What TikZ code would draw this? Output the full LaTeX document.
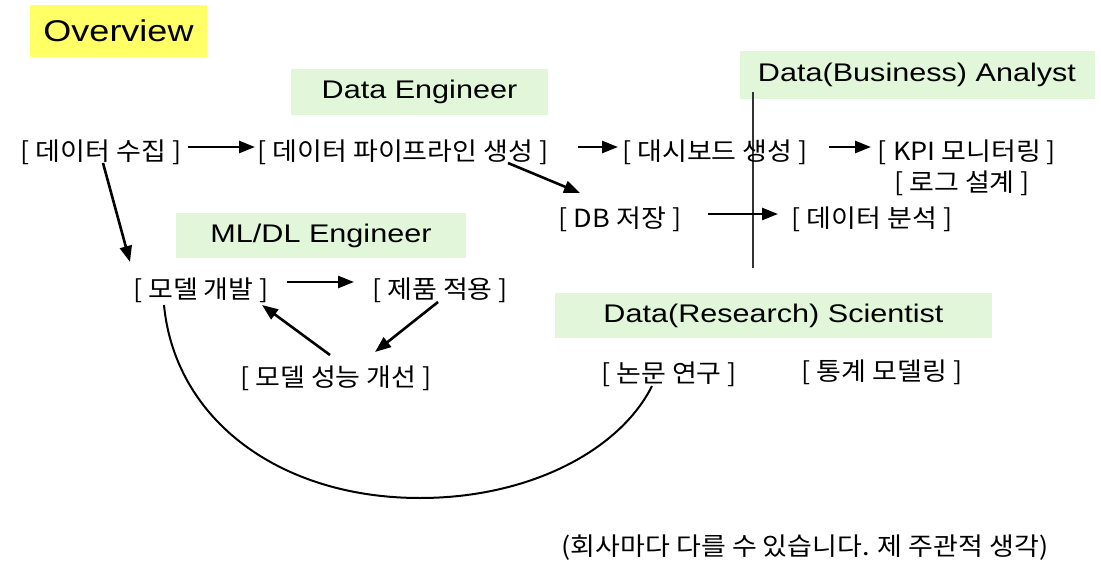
\documentclass[tikz,border=0pt]{standalone}
\usepackage{fontspec}
\setmainfont{Liberation Sans}[FakeStretch=1.2]
\newfontfamily\kr{Noto Sans CJK KR}[FakeStretch=1.08]
\usetikzlibrary{arrows.meta}
\definecolor{hiyellow}{RGB}{255,255,102}
\definecolor{rolegreen}{RGB}{226,247,218}
\begin{document}
\begin{tikzpicture}[x=1pt,y=-1pt,
  titlebox/.style={fill=hiyellow, inner sep=0, font=\fontsize{30}{36}\selectfont},
  role/.style={fill=rolegreen, inner sep=0, font=\fontsize{25.5}{30}\selectfont},
  task/.style={inner sep=0, font=\kr\fontsize{25}{30}\selectfont},
  flow/.style={line width=2.6pt, -{Triangle[length=16pt,width=12pt]}},
  link/.style={line width=2pt},
]
\useasboundingbox[fill=white] (0,0) rectangle (1101,586);

% title and role labels
\node[titlebox, minimum width=177pt, minimum height=52pt] (title) at (118.5,31) {Overview};
\node[role, minimum width=257pt, minimum height=45pt] (de) at (419.5,92) {Data Engineer};
\node[role, minimum width=355pt, minimum height=48pt] (ba) at (917,75) {Data(Business) Analyst};
\node[role, minimum width=290pt, minimum height=45pt] (ml) at (321,235.5) {ML/DL Engineer};
\node[role, minimum width=437pt, minimum height=45pt] (ds) at (773.5,315.5) {Data(Research) Scientist};

% separator between engineering and analysis
\draw[line width=1.2pt, black!80] (753,92) -- (753,268);

% tasks
\node[task] (collect) at (101,152) {[ 데이터 수집 ]};
\node[task] (pipe) at (403,152) {[ 데이터 파이프라인 생성 ]};
\node[task] (dash) at (715,152) {[ 대시보드 생성 ]};
\node[task] (kpi) at (967,152) {[ KPI 모니터링 ]};
\node[task] (logd) at (962,183) {[ 로그 설계 ]};
\node[task] (db) at (620,219) {[ DB 저장 ]};
\node[task] (anal) at (872,219) {[ 데이터 분석 ]};
\node[task] (dev) at (201,290) {[ 모델 개발 ]};
\node[task] (apply) at (440,290) {[ 제품 적용 ]};
\node[task] (improve) at (336,378) {[ 모델 성능 개선 ]};
\node[task] (paper) at (669,374) {[ 논문 연구 ]};
\node[task] (stats) at (882,372) {[ 통계 모델링 ]};
\node[task] (note) at (805,548) {(회사마다 다를 수 있습니다. 제 주관적 생각)};

% flows
\draw[flow] ([shift={(87,-5)}]collect.center) -- ([shift={(-148,-5)}]pipe.center);
\draw[flow] ([shift={(175,-5)}]pipe.center) -- ([shift={(-97,-5)}]dash.center);
\draw[flow] ([shift={(114,-5)}]dash.center) -- ([shift={(-96,-5)}]kpi.center);
\draw[flow] ([shift={(105,11)}]pipe.center) -- ([shift={(-40,-26)}]db.center);
\draw[flow] ([shift={(88,-5)}]db.center) -- ([shift={(-94,-5)}]anal.center);
\draw[flow] ([shift={(2,11)}]collect.center) -- ([shift={(-71,-28)}]dev.center);
\draw[flow] ([shift={(86,-8)}]dev.center) -- ([shift={(-86,-8)}]apply.center);
\draw[flow] ([shift={(-2,12)}]apply.center) -- ([shift={(39,-26)}]improve.center);
\draw[flow] ([shift={(-6,-23)}]improve.center) -- ([shift={(61,15)}]dev.center);

% research link between model development and papers
\draw[link] ([shift={(-37,15)}]dev.center) .. controls (175,420) and (280,498) .. (420,498)
  .. controls (530,498) and (620,450) .. ([shift={(-17,12)}]paper.center);
\end{tikzpicture}
\end{document}
